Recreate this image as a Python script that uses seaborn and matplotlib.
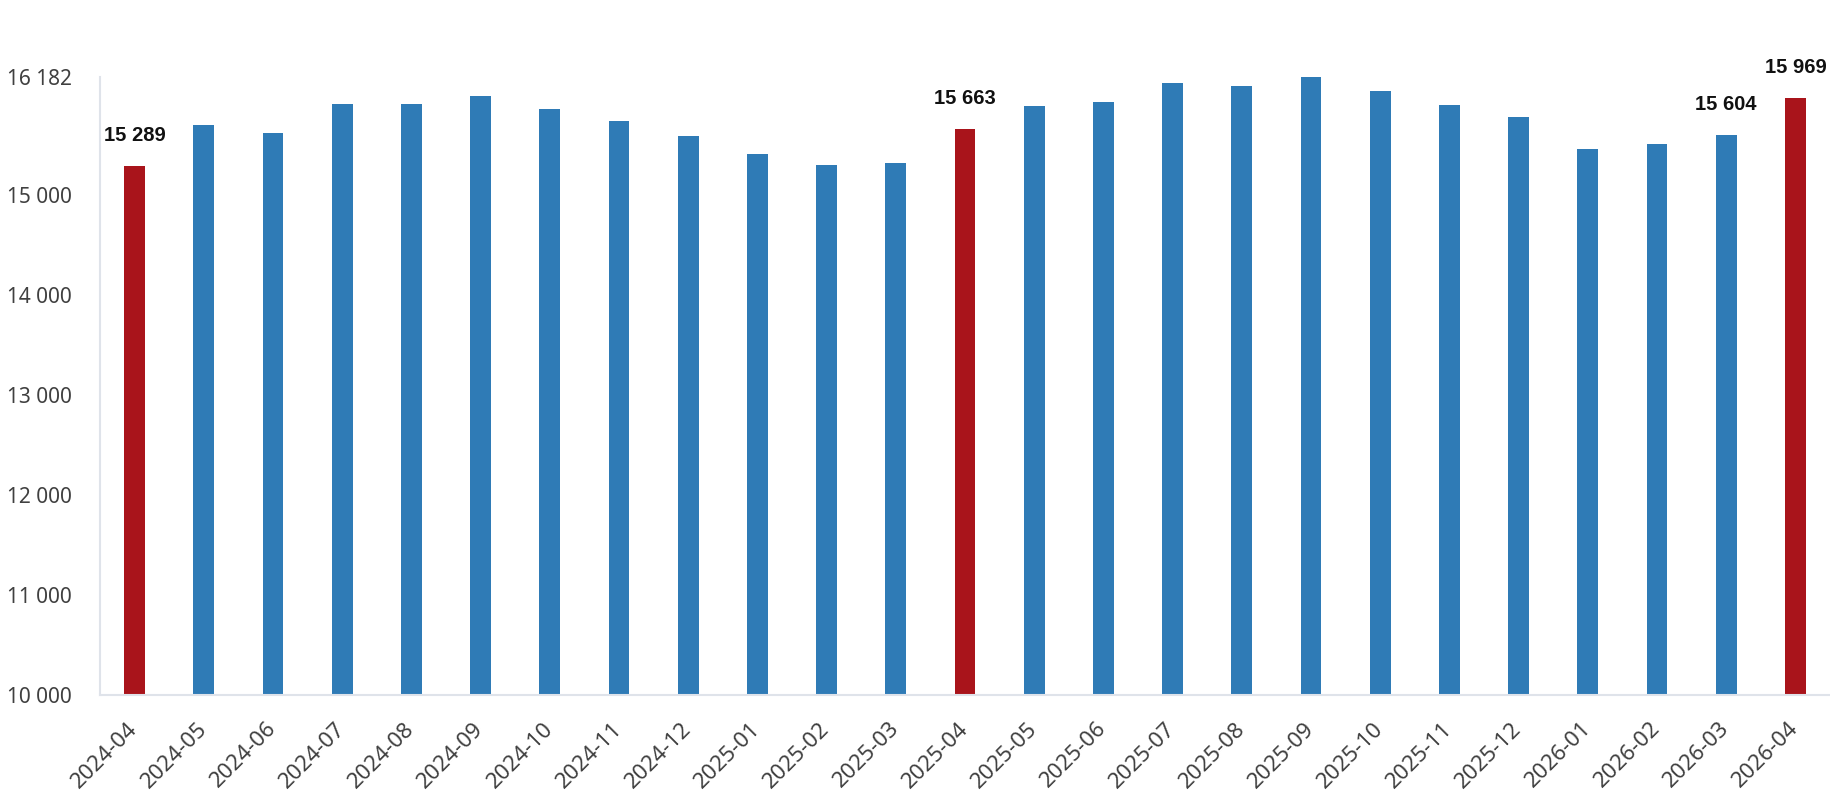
import matplotlib
matplotlib.use("Agg")
import matplotlib.pyplot as plt
import seaborn as sns
import pandas as pd

months = ["2024-04", "2024-05", "2024-06", "2024-07", "2024-08", "2024-09", "2024-10",
          "2024-11", "2024-12", "2025-01", "2025-02", "2025-03", "2025-04", "2025-05",
          "2025-06", "2025-07", "2025-08", "2025-09", "2025-10", "2025-11", "2025-12",
          "2026-01", "2026-02", "2026-03", "2026-04"]
values = [15289, 15698, 15616, 15912, 15906, 15989, 15859, 15739, 15586, 15409,
          15299, 15322, 15663, 15889, 15932, 16116, 16089, 16182, 16039, 15902,
          15779, 15456, 15506, 15604, 15969]
highlight = ["2024-04", "2025-04", "2026-04"]
labelled = ["2024-04", "2025-04", "2026-03", "2026-04"]
y_ticks = [10000, 11000, 12000, 13000, 14000, 15000, 16182]

BLUE = "#2f7bb6"
RED = "#a9141b"

df = pd.DataFrame({"month": months, "value": values})
df["kind"] = ["hi" if m in highlight else "base" for m in months]

sns.set_theme(style="white")
plt.rcParams["font.family"] = ["Noto Sans", "DejaVu Sans"]

fig = plt.figure(figsize=(18.3, 8), dpi=100)
ax = fig.add_axes([0.0546, 0.13125, 0.9454, 0.904 - 0.13125])

sns.barplot(data=df, x="month", y="value", hue="kind", order=months,
            palette={"base": BLUE, "hi": RED}, dodge=False, width=0.3,
            legend=False, ax=ax, saturation=1, linewidth=0)

ax.set_ylim(10000, 16182)
ax.set_xlim(-0.5, len(months) - 0.5)
ax.set_yticks(y_ticks)
ax.set_yticklabels([f"{v:,}".replace(",", " ") for v in y_ticks],
                   fontsize=15, color="#404040")
ax.tick_params(axis="y", length=0, pad=20)
ax.tick_params(axis="x", length=0, pad=22)
for lab in ax.get_xticklabels():
    lab.set_rotation(45)
    lab.set_ha("right")
    lab.set_va("center")
    lab.set_rotation_mode("anchor")
    lab.set_fontsize(16)
    lab.set_color("#404040")
ax.set_xlabel("")
ax.set_ylabel("")

for s in ["top", "right"]:
    ax.spines[s].set_visible(False)
for s in ["left", "bottom"]:
    ax.spines[s].set_color("#dfe3ea")
    ax.spines[s].set_linewidth(1.5)

for i, (m, v) in enumerate(zip(months, values)):
    if m in labelled:
        ax.annotate(f"{v:,}".replace(",", " "), xy=(i, v), xytext=(0, 15),
                    textcoords="offset points", ha="center", va="bottom",
                    fontsize=14.5, fontweight="bold", color="#111111",
                    family=["Liberation Sans", "DejaVu Sans"], annotation_clip=False)

fig.savefig("out.png", dpi=100)
